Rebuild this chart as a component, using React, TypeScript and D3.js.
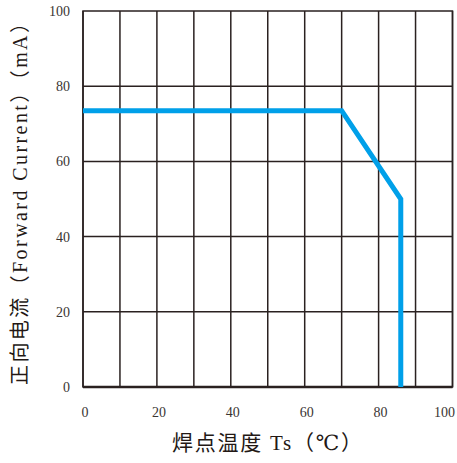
import React, { useEffect, useRef } from 'react';
import * as d3 from 'd3';

// Derating curve: solder-point temperature (°C) vs forward current (mA)
const temps = [0, 70, 86, 86];
const currents = [73.5, 73.5, 50, 0];
const xTicks = [0, 20, 40, 60, 80, 100];
const yTicks = [0, 20, 40, 60, 80, 100];
const xGrid = d3.range(0, 101, 10);
const yGrid = [20, 40, 60, 80];

const App: React.FC = () => {
  const svgRef = useRef<SVGSVGElement>(null);

  useEffect(() => {
    if (!svgRef.current) return;
    d3.select(svgRef.current).selectAll('*').remove();

    const width = 457;
    const height = 463;
    const margin = { left: 83, right: 4.5, top: 11, bottom: 76 };
    const serif = '"Liberation Serif", "DejaVu Serif", "Times New Roman", "Noto Sans CJK SC", serif';
    const gridColor = '#2a2120';

    const svg = d3.select(svgRef.current)
      .attr('width', width)
      .attr('height', height)
      .style('display', 'block')
      .style('background', '#fff');

    const x = d3.scaleLinear().domain([0, 100]).range([margin.left, width - margin.right]);
    const y = d3.scaleLinear().domain([0, 100]).range([height - margin.bottom, margin.top]);

    // Grid
    svg.append('g')
      .selectAll('line')
      .data(xGrid)
      .enter()
      .append('line')
      .attr('x1', d => x(d))
      .attr('x2', d => x(d))
      .attr('y1', y(0))
      .attr('y2', y(100))
      .attr('stroke', gridColor)
      .attr('stroke-width', 1.5);

    svg.append('g')
      .selectAll('line')
      .data(yGrid)
      .enter()
      .append('line')
      .attr('x1', x(0))
      .attr('x2', x(100))
      .attr('y1', d => y(d))
      .attr('y2', d => y(d))
      .attr('stroke', gridColor)
      .attr('stroke-width', 1.5);

    // Frame
    svg.append('rect')
      .attr('x', x(0))
      .attr('y', y(100))
      .attr('width', x(100) - x(0))
      .attr('height', y(0) - y(100))
      .attr('fill', 'none')
      .attr('stroke', gridColor)
      .attr('stroke-width', 1.5);
    svg.append('line')
      .attr('x1', x(0)).attr('x2', x(100))
      .attr('y1', y(0)).attr('y2', y(0))
      .attr('stroke', gridColor)
      .attr('stroke-width', 2.5);

    // Curve
    const line = d3.line<number>()
      .x((_, i) => x(temps[i]))
      .y(d => y(d));
    svg.append('path')
      .datum(currents)
      .attr('d', line)
      .attr('fill', 'none')
      .attr('stroke', '#00a0e9')
      .attr('stroke-width', 5)
      .attr('stroke-linejoin', 'miter');

    // Tick labels
    svg.append('g')
      .selectAll('text')
      .data(yTicks)
      .enter()
      .append('text')
      .attr('x', 70)
      .attr('y', d => y(d) + 5)
      .attr('text-anchor', 'end')
      .style('font-family', serif)
      .attr('font-size', 14)
      .attr('fill', '#3a3533')
      .text(d => d);

    svg.append('g')
      .selectAll('text')
      .data(xTicks)
      .enter()
      .append('text')
      .attr('x', d => (d === 100 ? 455 : x(d) + 2))
      .attr('y', 417)
      .attr('text-anchor', d => (d === 100 ? 'end' : 'middle'))
      .style('font-family', serif)
      .attr('font-size', 14)
      .attr('fill', '#3a3533')
      .text(d => d);

    // Axis titles
    svg.append('text')
      .attr('x', 172)
      .attr('y', 450)
      .attr('textLength', 190)
      .attr('lengthAdjust', 'spacing')
      .style('font-family', serif)
      .attr('font-size', 21)
      .attr('fill', '#231815')
      .text('焊点温度 Ts（℃）');

    svg.append('text')
      .attr('transform', 'translate(27,385) rotate(-90)')
      .attr('textLength', 372)
      .attr('lengthAdjust', 'spacing')
      .style('font-family', serif)
      .attr('font-size', 20)
      .attr('fill', '#231815')
      .text('正向电流（Forward Current）（mA）');
  }, []);

  return <svg ref={svgRef} style={{ position: 'absolute', left: 0, top: 0 }}></svg>;
};

export default App;
